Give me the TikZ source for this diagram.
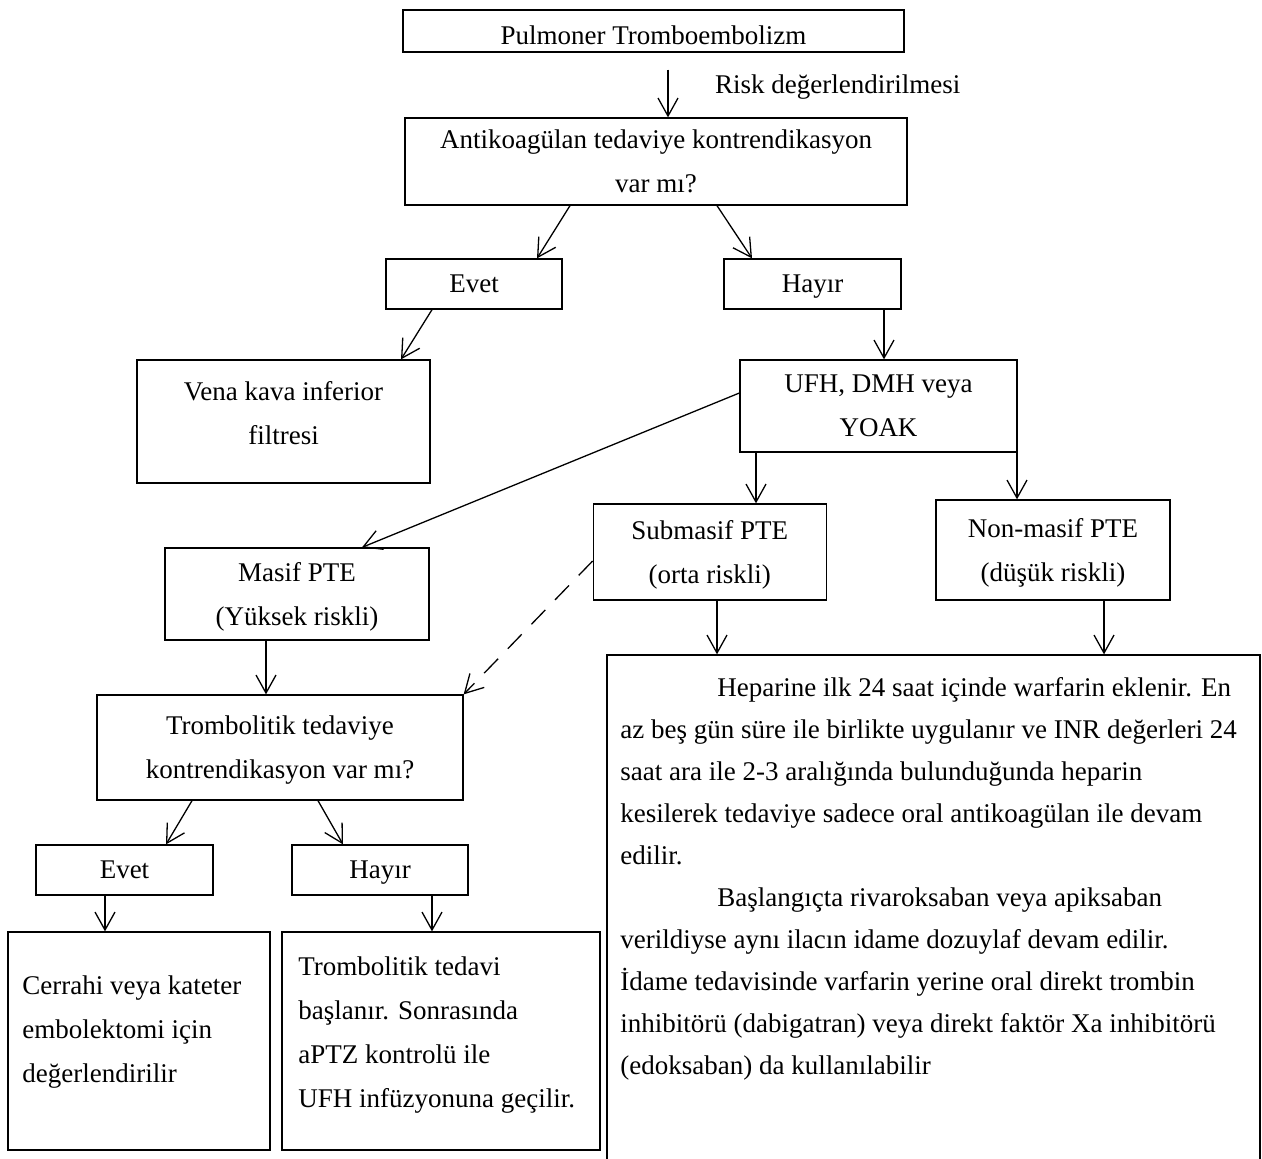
\documentclass[tikz,border=0pt]{standalone}
\usepackage{fontspec}
\setmainfont{Liberation Serif}
\usetikzlibrary{arrows.meta}

\tikzset{
	box/.style={draw, line width=0.65pt, inner sep=0pt, align=center, text depth=0pt},
	txt/.style={inner sep=0pt, align=left},
	arr/.style={-{Straight Barb[length=9pt,width=10pt]}, line width=0.65pt},
}

\begin{document}
\begin{tikzpicture}[x=0.5pt, y=-0.5pt, font=\fontsize{13.5}{22}\selectfont]
		\useasboundingbox (0,0) rectangle (1262,1158);

		% upper part
		\node[box, minimum width=250.5pt, minimum height=21pt] (top) at (653.5,31) {};
		\node[anchor=base] (toptxt) at (653.5,44) {Pulmoner Tromboembolizm};
		\node[box, minimum width=251pt, minimum height=43.5pt] (ak) at (656,161.5) {Antikoagülan tedaviye kontrendikasyon\\var mı?};
		\node[anchor=west] (risk) at (708,87) {Risk değerlendirilmesi};

		\node[box, minimum width=88pt, minimum height=25pt] (evet1) at (474,284) {Evet};
		\node[box, minimum width=88.5pt, minimum height=25pt] (hayir1) at (812.5,284) {Hayır};

		\node[box, minimum width=146.5pt, minimum height=61.5pt] (vena) at (283.5,421.5) {};
		\node[txt, align=center] (venatxt) at (283.5,413) {Vena kava inferior\\filtresi};
		\node[box, minimum width=138.5pt, minimum height=46pt] (ufh) at (878.5,406) {UFH, DMH veya\\YOAK};

		% risk groups
		\node[box, minimum width=132pt, minimum height=46pt] (masif) at (297,594) {Masif PTE\\(Yüksek riskli)};
		\node[box, minimum width=116.5pt, minimum height=48pt] (sub) at (709.75,552) {Submasif PTE\\(orta riskli)};
		\node[box, minimum width=117pt, minimum height=50pt] (non) at (1053,550) {Non-masif PTE\\(düşük riskli)};

		\node[box, minimum width=183pt, minimum height=52.5pt] (tromb) at (280,747.5) {Trombolitik tedaviye\\kontrendikasyon var mı?};
		\node[box, minimum width=88.5pt, minimum height=25pt] (evet2) at (124.5,870) {Evet};
		\node[box, minimum width=88pt, minimum height=25pt] (hayir2) at (380,870) {Hayır};

		% lower boxes
		\node[box, minimum width=131pt, minimum height=109pt] (cerrahi) at (139,1041) {};
		\node[txt, anchor=west] (cerrahitxt) at (22,1032) {Cerrahi veya kateter\\embolektomi için\\değerlendirilir};
		\node[box, minimum width=159pt, minimum height=109pt] (trombtx) at (441,1041) {};
		\node[txt, anchor=west] (trombtxtxt) at (298,1035) {Trombolitik tedavi\\başlanır. Sonrasında\\aPTZ kontrolü ile\\UFH infüzyonuna geçilir.};
		\node[box, minimum width=326.5pt, minimum height=253.5pt] (hep) at (933.5,908.5) {};
		\node[txt, anchor=west, font=\fontsize{13.5}{21}\selectfont] (heptxt) at (620,879) {\hspace*{48.5pt}Heparine ilk 24 saat içinde warfarin eklenir. En\\az beş gün süre ile birlikte uygulanır ve INR değerleri 24\\saat ara ile 2-3 aralığında bulunduğunda heparin\\kesilerek tedaviye sadece oral antikoagülan ile devam\\edilir.\\\hspace*{48.5pt}Başlangıçta rivaroksaban veya apiksaban\\verildiyse aynı ilacın idame dozuylaf devam edilir.\\İdame tedavisinde varfarin yerine oral direkt trombin\\inhibitörü (dabigatran) veya direkt faktör Xa inhibitörü\\(edoksaban) da kullanılabilir};

		% arrows
		\draw[arr, shorten <=8.5pt] (top.south -| 668,0) -- (ak.north -| 668,0);
		\draw[arr] (ak.south -| 570,0) -- (evet1.north -| 537,0);
		\draw[arr] (ak.south -| 717,0) -- (hayir1.north -| 752,0);
		\draw[arr] (evet1.south -| 432,0) -- (vena.north -| 401,0);
		\draw[arr] (hayir1.south -| 884,0) -- (ufh.north -| 884,0);
		\draw[arr] (ufh.west |- 0,393) -- (masif.north -| 362,0);
		\draw[arr] (ufh.south -| 756,0) -- (sub.north -| 756,0);
		\draw[arr] (ufh.south -| 1017,0) -- (non.north -| 1017,0);
		\draw[arr] (sub.south -| 717,0) -- (hep.north -| 717,0);
		\draw[arr] (non.south -| 1104,0) -- (hep.north -| 1104,0);
		\draw[arr, dash pattern=on 10pt off 7pt] (sub.west |- 0,561) -- (tromb.north east);
		\draw[arr] (masif.south -| 266,0) -- (tromb.north -| 266,0);
		\draw[arr] (tromb.south -| 192,0) -- (evet2.north -| 166,0);
		\draw[arr] (tromb.south -| 318,0) -- (hayir2.north -| 343,0);
		\draw[arr] (evet2.south -| 105,0) -- (cerrahi.north -| 105,0);
		\draw[arr] (hayir2.south -| 432,0) -- (trombtx.north -| 432,0);

	\end{tikzpicture}
\end{document}
